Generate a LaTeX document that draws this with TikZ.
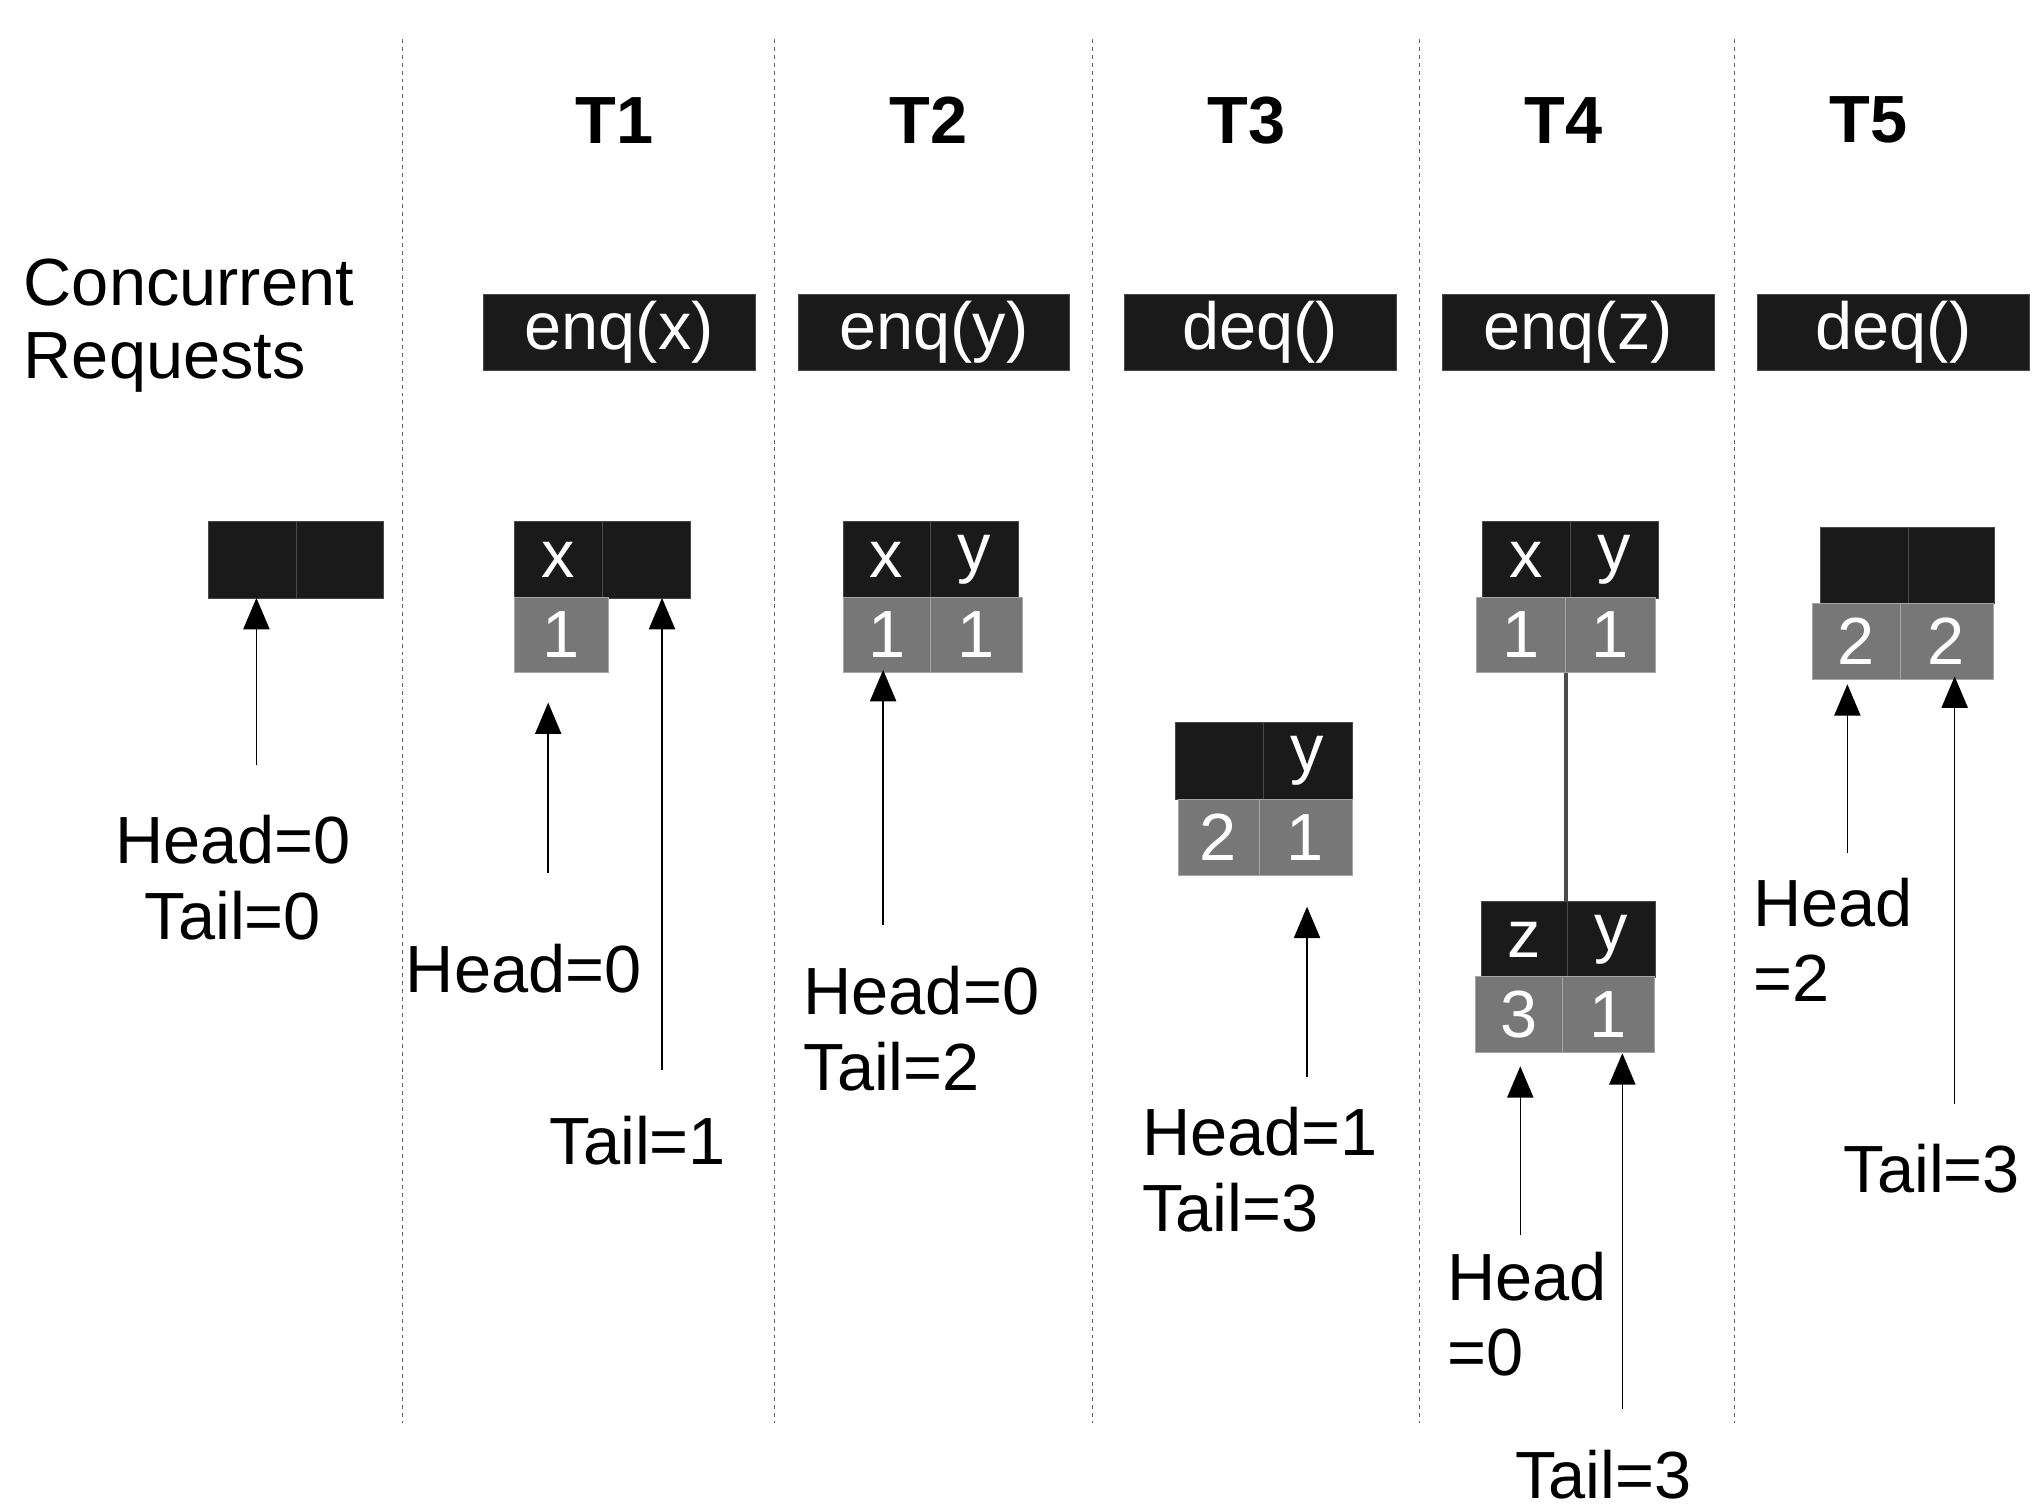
\documentclass[tikz,border=0pt]{standalone}
\usepackage{fontspec}
\setmainfont{Liberation Sans}
\usetikzlibrary{arrows.meta}
\definecolor{blk}{HTML}{1A1A1A}
\definecolor{gry}{HTML}{777777}
\begin{document}
\begin{tikzpicture}[x=1pt,y=-1pt,
  txt/.style={font=\fontsize{51}{56}\selectfont, inner sep=0pt},
  ttl/.style={font=\fontsize{51}{56}\selectfont\bfseries, inner sep=0pt},
  bcell/.style={fill=blk, draw=blk!80!white, text=white, inner sep=0pt, font=\fontsize{51}{56}\selectfont},
  gcell/.style={fill=gry, draw=gray!70, text=white, inner sep=0pt, font=\fontsize{51}{56}\selectfont},
  arr/.style={line width=1.2pt, -{Triangle[width=20pt,length=24pt]}},
  sep/.style={dashed, line width=0.8pt, gray!80!black, dash pattern=on 3pt off 3pt}]
\useasboundingbox (0,0) rectangle (1560,1154);
\newcommand\cell[7]{\node[#2, minimum width=#4pt-#3pt, minimum height=#6pt-#5pt, anchor=north west] (#1) at (#3,#5) {#7};}
% separators
\foreach \x/\n in {308/a,592/b,835/c,1085/d,1326/e}{
  \coordinate (s\n1) at (\x,30); \coordinate (s\n2) at (\x,1088);
  \draw[sep] (s\n1) -- (s\n2);}
% titles
\node[ttl] (t1) at (470,92) {T1};
\node[ttl] (t2) at (710,92) {T2};
\node[ttl] (t3) at (953,92) {T3};
\node[ttl] (t4) at (1195,92) {T4};
\node[ttl] (t5) at (1428,92) {T5};
\node[txt, anchor=west, align=left] (cr) at (18,249) {Concurrent\\Requests};
% requests
\cell{r1}{bcell}{369}{577}{225}{283}{enq(x)}
\cell{r2}{bcell}{610}{817}{225}{283}{enq(y)}
\cell{r3}{bcell}{859}{1067}{225}{283}{deq()}
\cell{r4}{bcell}{1102}{1310}{225}{283}{enq(z)}
\cell{r5}{bcell}{1343}{1551}{225}{283}{deq()}
% initial
\cell{i1}{bcell}{159}{226}{398}{457}{}
\cell{i2}{bcell}{226}{293}{398}{457}{}
\coordinate (ia) at (196,585); \coordinate (ib) at (196,457);
\draw[arr] (ia) -- (ib);
\node[txt] (ih) at (178,642) {Head=0};
\node[txt] (it) at (178,700) {Tail=0};
% T1
\cell{a1}{bcell}{393}{460}{398}{457}{x}
\cell{a2}{bcell}{460}{527}{398}{457}{}
\cell{a3}{gcell}{393}{465}{456}{514}{1}
\coordinate (aa) at (419,667); \coordinate (ab) at (419,537);
\draw[arr] (aa) -- (ab);
\coordinate (ac) at (506,818); \coordinate (ad) at (506,457);
\draw[arr] (ac) -- (ad);
\node[txt, anchor=west] (ah) at (310,740) {Head=0};
\node[txt, anchor=west] (at) at (420,872) {Tail=1};
% T2
\cell{b1}{bcell}{644}{711}{398}{457}{x}
\cell{b2}{bcell}{711}{778}{398}{457}{y}
\cell{b3}{gcell}{644}{711}{456}{514}{1}
\cell{b4}{gcell}{711}{781}{456}{514}{1}
\coordinate (ba) at (675,707); \coordinate (bb) at (675,512);
\draw[arr] (ba) -- (bb);
\node[txt, anchor=west] (bh) at (614,757) {Head=0};
\node[txt, anchor=west] (bt) at (614,815) {Tail=2};
% T3
\cell{c1}{bcell}{898}{965}{552}{611}{}
\cell{c2}{bcell}{965}{1033}{552}{611}{y}
\cell{c3}{gcell}{900}{962}{611}{669}{2}
\cell{c4}{gcell}{962}{1033}{611}{669}{1}
\coordinate (ca) at (999,823); \coordinate (cb) at (999,693);
\draw[arr] (ca) -- (cb);
\node[txt, anchor=west] (ch) at (873,865) {Head=1};
\node[txt, anchor=west] (ct) at (873,923) {Tail=3};
% T4
\coordinate (dl1) at (1197,507); \coordinate (dl2) at (1197,690);
\draw[line width=2.5pt, gray!60!black] (dl1) -- (dl2);
\cell{d1}{bcell}{1133}{1200}{398}{457}{x}
\cell{d2}{bcell}{1200}{1267}{398}{457}{y}
\cell{d3}{gcell}{1128}{1196}{456}{514}{1}
\cell{d4}{gcell}{1196}{1265}{456}{514}{1}
\cell{d5}{bcell}{1132}{1198}{689}{747}{z}
\cell{d6}{bcell}{1198}{1265}{689}{747}{y}
\cell{d7}{gcell}{1127}{1194}{746}{804}{3}
\cell{d8}{gcell}{1194}{1264}{746}{804}{1}
\coordinate (da) at (1162,944); \coordinate (db) at (1162,815);
\draw[arr] (da) -- (db);
\coordinate (dc) at (1240,1077); \coordinate (dd) at (1240,805);
\draw[arr] (dc) -- (dd);
\node[txt, anchor=west] (dh) at (1106,976) {Head};
\node[txt, anchor=west] (dh2) at (1106,1034) {=0};
\node[txt, anchor=west] (dt) at (1158,1127) {Tail=3};
% T5
\cell{e1}{bcell}{1391}{1458}{403}{461}{}
\cell{e2}{bcell}{1458}{1524}{403}{461}{}
\cell{e3}{gcell}{1385}{1452}{461}{519}{2}
\cell{e4}{gcell}{1452}{1523}{461}{519}{2}
\coordinate (ea) at (1412,652); \coordinate (eb) at (1412,523);
\draw[arr] (ea) -- (eb);
\coordinate (ec) at (1494,844); \coordinate (ed) at (1494,517);
\draw[arr] (ec) -- (ed);
\node[txt, anchor=west] (eh) at (1340,690) {Head};
\node[txt, anchor=west] (eh2) at (1340,748) {=2};
\node[txt, anchor=west] (et) at (1409,893) {Tail=3};
\end{tikzpicture}
\end{document}
